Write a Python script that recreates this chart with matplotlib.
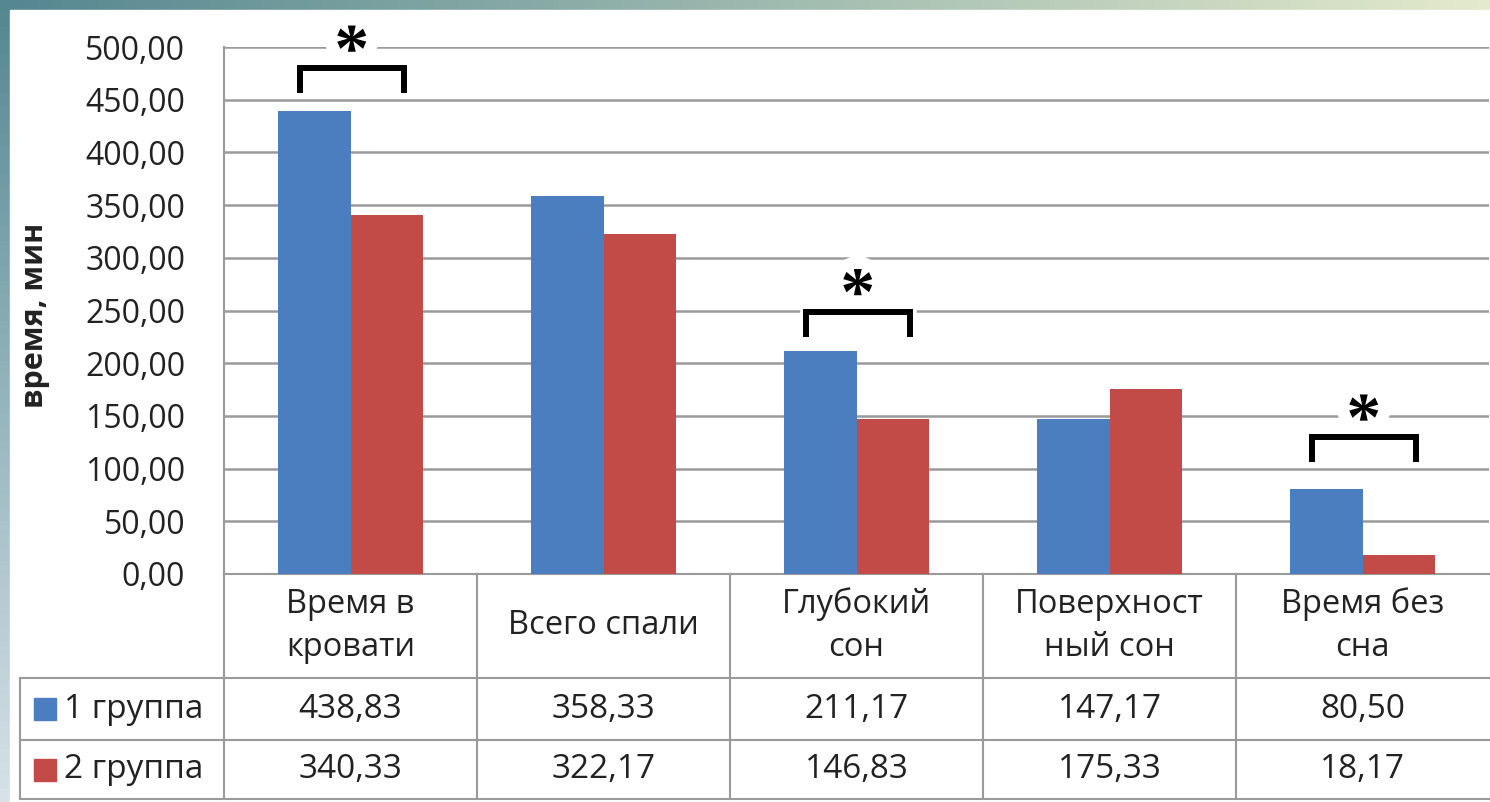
import numpy as np
import matplotlib.pyplot as plt
import matplotlib.patheffects as pe
from matplotlib.patches import Rectangle

plt.rcParams['font.family'] = ['Open Sans', 'DejaVu Sans']

categories = ['Время в\nкровати', 'Всего спали', 'Глубокий\nсон', 'Поверхност\nный сон', 'Время без\nсна']
group_names = ['1 группа', '2 группа']
group1 = [438.83, 358.33, 211.17, 147.17, 80.50]
group2 = [340.33, 322.17, 146.83, 175.33, 18.17]
y_ticks = [0, 50, 100, 150, 200, 250, 300, 350, 400, 450, 500]
sig_index = [0, 2, 4]
sig_level = [480, 249, 130]

colors = ['#4a7ebf', '#c24b48']
text_col = '#222222'
line_col = '#9a9a9a'

W, H = 1490, 802
fig = plt.figure(figsize=(W / 100, H / 100), dpi=100)


def fmt(v):
    return f'{v:.2f}'.replace('.', ',')


# slide background
bg = fig.add_axes([0, 0, 1, 1])
bg.set_zorder(0)
yy, xx = np.mgrid[0:1:60j, 0:1:120j]
tl = np.array([85, 135, 145])
tr = np.array([228, 234, 204])
bl = np.array([214, 225, 232])
br = np.array([240, 244, 246])
img = (tl * ((1 - xx) * (1 - yy))[..., None] + tr * (xx * (1 - yy))[..., None]
       + bl * ((1 - xx) * yy)[..., None] + br * (xx * yy)[..., None]) / 255
bg.imshow(img, extent=[0, W, H, 0], aspect='auto')
bg.add_patch(Rectangle((10, 10), W, H, color='white'))
bg.set_xlim(0, W)
bg.set_ylim(H, 0)
bg.axis('off')

# bars
ax = fig.add_axes([224 / W, (H - 574) / H, 1265 / W, 527 / H])
ax.set_zorder(2)
ax.patch.set_alpha(0)
x = np.arange(len(categories))
bw = 0.285
ax.bar(x - bw / 2, group1, bw, color=colors[0], zorder=3)
ax.bar(x + bw / 2, group2, bw, color=colors[1], zorder=3)
ax.set_xlim(-0.5, len(categories) - 0.5)
ax.set_ylim(0, 500)
ax.set_yticks(y_ticks)
ax.set_yticklabels([fmt(v) for v in y_ticks])
ax.set_xticks([])
ax.yaxis.grid(True, color=line_col, lw=1.8)
ax.set_axisbelow(True)
ax.tick_params(axis='y', length=0, pad=28, labelsize=23, labelcolor=text_col)
for s in ['top', 'right']:
    ax.spines[s].set_visible(False)
ax.spines['left'].set_color(line_col)
ax.spines['bottom'].set_color(line_col)
ax.spines['left'].set_linewidth(1.5)
ax.spines['bottom'].set_linewidth(1.5)
ax.set_ylabel('время, мин', fontsize=22, fontweight='bold', color=text_col)
ax.yaxis.set_label_coords(-0.1375, 0.49)

# significance brackets
for i, lev in zip(sig_index, sig_level):
    x0, x1 = i - 0.2, i + 0.21
    ax.text(i + 0.005, lev + 13, '*', fontsize=50, family='Liberation Serif',
            fontweight='bold', ha='center', va='center', color='black', zorder=4,
            path_effects=[pe.Stroke(linewidth=18, foreground='white'), pe.Normal()])
    ax.plot([x0, x0, x1, x1], [lev - 24, lev, lev, lev - 24], color='black', lw=4.3,
            solid_joinstyle='miter', solid_capstyle='butt', clip_on=False, zorder=5,
            path_effects=[pe.Stroke(linewidth=9, foreground='white'), pe.Normal()])

# data table
tab = fig.add_axes([0, 0, 1, 1])
tab.set_zorder(1)
tab.set_xlim(0, W)
tab.set_ylim(H, 0)
tab.axis('off')
colw = 253
edges = 224 + colw * np.arange(len(categories) + 1)
rows = [574, 678, 740, 799]
for r in rows[1:]:
    tab.plot([20, W], [r, r], color=line_col, lw=1.5)
tab.plot([20, 20], [rows[1], rows[3]], color=line_col, lw=1.5)
for e in edges[:-1]:
    tab.plot([e, e], [rows[0], rows[3]], color=line_col, lw=1.5)
centers = edges[:-1] + colw / 2
for c, lab in zip(centers, categories):
    tab.text(c, (rows[0] + rows[1]) / 2, lab, ha='center', va='center', fontsize=23.5,
             color=text_col, linespacing=1.4)
for k, vals in enumerate([group1, group2]):
    yc = (rows[k + 1] + rows[k + 2]) / 2
    tab.add_patch(Rectangle((34, yc - 11), 22, 22, color=colors[k]))
    tab.text(64, yc, group_names[k], ha='left', va='center', fontsize=24, color=text_col)
    for c, v in zip(centers, vals):
        tab.text(c, yc, fmt(v), ha='center', va='center', fontsize=24, color=text_col)

fig.savefig('out.png', dpi=100)
